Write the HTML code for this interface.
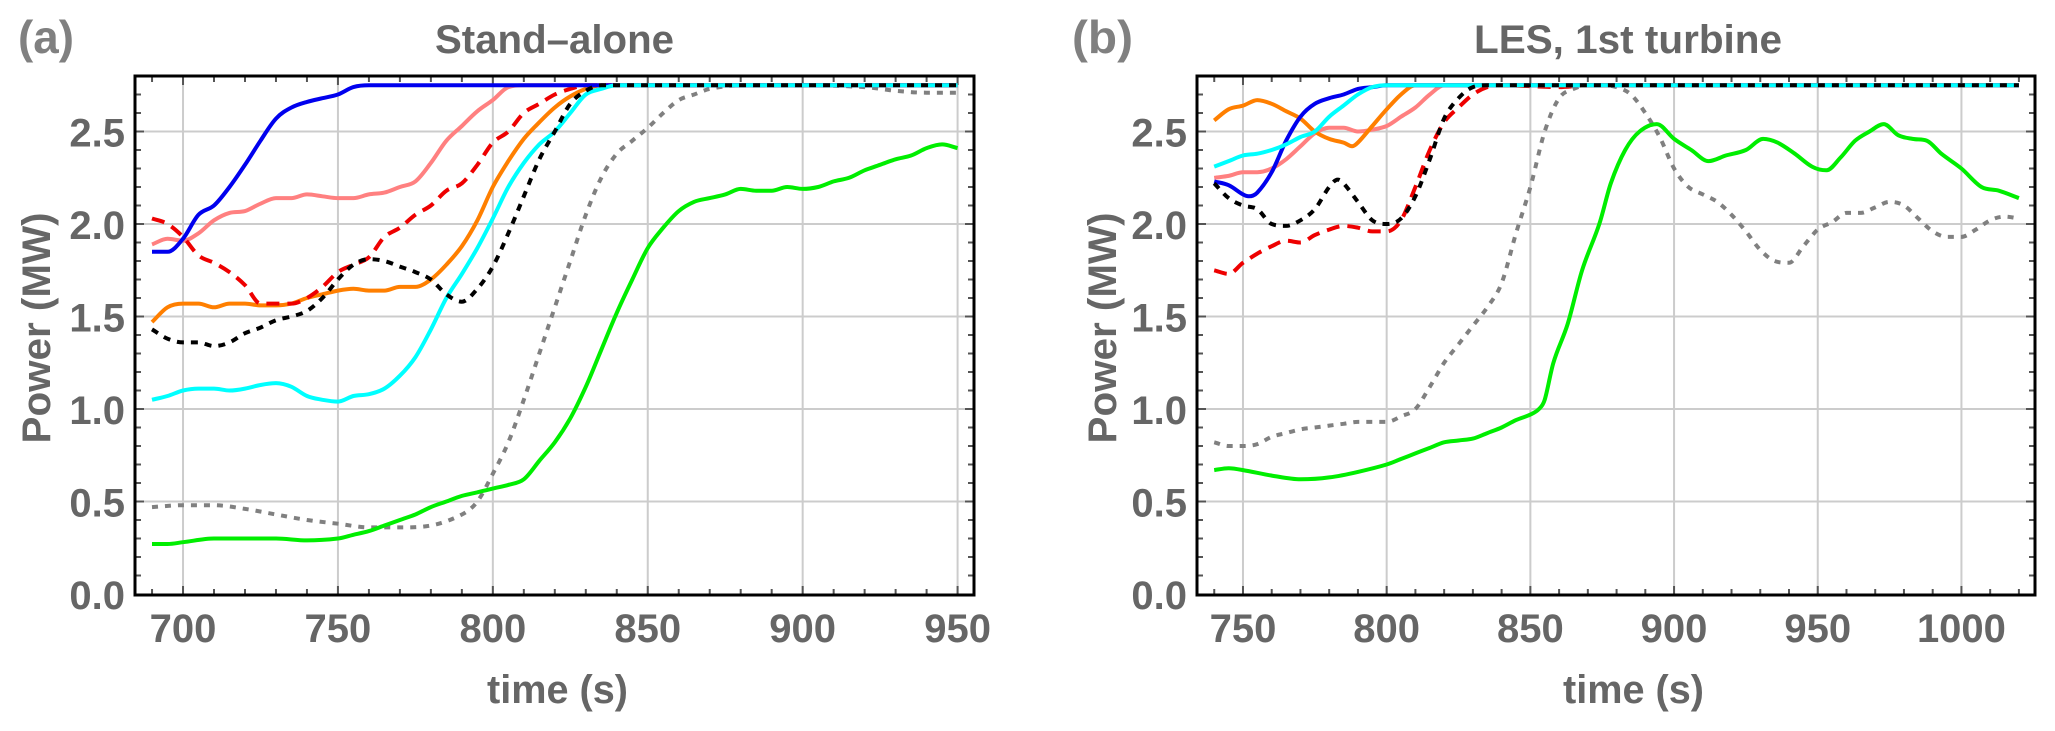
<!DOCTYPE html>
<html><head><meta charset="utf-8"><style>
html,body{margin:0;padding:0;background:#fff;}
svg{display:block;font-family:"Liberation Sans",Arial,sans-serif;font-weight:bold;}
</style></head><body>
<svg id="fig" width="2055" height="731" viewBox="0 0 2055 731"></svg>
<script>
// ---------- Panel (a) data: Stand-alone ----------
const aBlueT=[690,695,700,705,710,715,720,725,730,735,740,745,750,755,760,950];
const aBlueP=[1.85,1.85,1.92,2.05,2.1,2.2,2.32,2.45,2.57,2.63,2.66,2.68,2.7,2.74,2.75,2.75];
const aPinkT=[690,695,700,705,710,715,720,725,730,735,740,745,750,755,760,765,770,775,780,785,790,795,800,805,810,950];
const aPinkP=[1.89,1.92,1.91,1.95,2.02,2.06,2.07,2.11,2.14,2.14,2.16,2.15,2.14,2.14,2.16,2.17,2.2,2.23,2.33,2.45,2.53,2.61,2.67,2.74,2.75,2.75];
const aRedT=[690,695,700,705,710,715,720,725,730,735,740,745,750,755,760,765,770,775,780,785,790,795,800,805,810,815,820,825,830,950];
const aRedP=[2.03,2.0,1.93,1.83,1.79,1.74,1.67,1.57,1.57,1.57,1.6,1.66,1.74,1.78,1.82,1.93,1.98,2.05,2.1,2.18,2.22,2.32,2.44,2.5,2.6,2.65,2.7,2.73,2.75,2.75];
const aOrangeT=[690,695,700,705,710,715,720,725,730,735,740,745,750,755,760,765,770,775,780,785,790,795,800,805,810,815,820,825,830,835,950];
const aOrangeP=[1.47,1.55,1.57,1.57,1.55,1.57,1.57,1.56,1.56,1.57,1.6,1.62,1.64,1.65,1.64,1.64,1.66,1.66,1.7,1.78,1.88,2.02,2.2,2.34,2.46,2.55,2.63,2.69,2.73,2.75,2.75];
const aCyanT=[690,695,700,705,710,715,720,725,730,735,740,745,750,755,760,765,770,775,780,785,790,795,800,805,810,815,820,825,830,835,840,950];
const aCyanP=[1.05,1.07,1.1,1.11,1.11,1.1,1.11,1.13,1.14,1.12,1.07,1.05,1.04,1.07,1.08,1.11,1.18,1.28,1.43,1.6,1.73,1.87,2.03,2.2,2.33,2.43,2.5,2.6,2.7,2.73,2.75,2.75];
const aBlackT=[690,695,700,705,710,715,720,725,730,735,740,745,750,755,760,765,770,775,780,785,790,795,800,805,810,815,820,825,830,835,840,950];
const aBlackP=[1.43,1.38,1.36,1.36,1.34,1.36,1.41,1.44,1.48,1.5,1.53,1.6,1.7,1.78,1.81,1.8,1.77,1.74,1.7,1.62,1.58,1.65,1.77,1.95,2.15,2.35,2.5,2.65,2.72,2.75,2.75,2.75];
const aGrayT=[690,700,710,720,730,740,750,760,770,780,790,795,800,805,810,815,820,825,830,835,840,845,850,855,860,865,870,880,900,920,930,940,950];
const aGrayP=[0.47,0.48,0.48,0.46,0.43,0.4,0.38,0.36,0.36,0.37,0.43,0.5,0.65,0.82,1.05,1.3,1.55,1.8,2.05,2.25,2.38,2.45,2.52,2.6,2.67,2.7,2.73,2.75,2.75,2.74,2.72,2.71,2.71];
const aGreenT=[690,695,700,710,720,730,740,750,755,760,765,770,775,780,785,790,795,800,805,810,815,820,825,830,835,840,845,850,855,860,865,870,875,880,885,890,895,900,905,910,915,920,925,930,935,940,945,950];
const aGreenP=[0.27,0.27,0.28,0.3,0.3,0.3,0.29,0.3,0.32,0.34,0.37,0.4,0.43,0.47,0.5,0.53,0.55,0.57,0.59,0.62,0.72,0.82,0.95,1.12,1.32,1.52,1.7,1.87,1.98,2.07,2.12,2.14,2.16,2.19,2.18,2.18,2.2,2.19,2.2,2.23,2.25,2.29,2.32,2.35,2.37,2.41,2.43,2.41];

// ---------- Panel (b) data: LES, 1st turbine ----------
const bOrangeT=[740,745,750,755,760,765,770,775,780,785,788,790,795,800,805,810,1020];
const bOrangeP=[2.56,2.62,2.64,2.67,2.65,2.61,2.57,2.5,2.46,2.44,2.42,2.44,2.53,2.62,2.7,2.75,2.75];
const bBlueT=[740,745,750,752,755,760,765,770,775,780,785,790,795,800,1020];
const bBlueP=[2.23,2.21,2.16,2.15,2.17,2.28,2.45,2.58,2.65,2.68,2.7,2.73,2.74,2.75,2.75];
const bPinkT=[740,745,750,755,760,765,770,775,780,785,790,795,800,805,810,815,820,1020];
const bPinkP=[2.25,2.26,2.28,2.28,2.3,2.35,2.42,2.49,2.52,2.52,2.5,2.51,2.53,2.58,2.63,2.7,2.75,2.75];
const bCyanT=[740,745,750,755,760,765,770,775,780,785,790,795,800,1020];
const bCyanP=[2.31,2.34,2.37,2.38,2.4,2.43,2.47,2.5,2.58,2.64,2.7,2.74,2.75,2.75];
const bBlackT=[740,745,750,755,760,765,770,775,780,783,785,790,795,800,805,810,815,820,825,830,835,1020];
const bBlackP=[2.22,2.14,2.1,2.08,2.0,1.99,2.02,2.08,2.2,2.24,2.22,2.12,2.02,2.0,2.03,2.15,2.35,2.57,2.68,2.74,2.75,2.75];
const bRedT=[740,745,750,755,760,765,770,775,780,785,790,795,800,805,810,815,820,825,830,835,840,860,870,1020];
const bRedP=[1.75,1.73,1.79,1.84,1.88,1.91,1.9,1.94,1.97,1.99,1.98,1.96,1.96,2.02,2.2,2.4,2.55,2.63,2.7,2.74,2.75,2.74,2.75,2.75];
const bGrayT=[740,745,750,755,760,765,770,775,780,785,790,795,800,805,810,815,820,825,830,835,840,845,850,855,860,865,870,875,880,885,890,895,900,905,910,915,920,925,930,935,940,945,950,955,960,965,970,975,980,985,990,995,1000,1005,1010,1015,1020];
const bGrayP=[0.82,0.8,0.8,0.81,0.85,0.87,0.89,0.9,0.91,0.92,0.93,0.93,0.93,0.96,1.0,1.12,1.25,1.35,1.45,1.55,1.68,1.95,2.2,2.5,2.68,2.73,2.75,2.75,2.74,2.7,2.6,2.47,2.3,2.2,2.16,2.12,2.05,1.96,1.86,1.8,1.79,1.88,1.97,2.01,2.06,2.06,2.09,2.12,2.1,2.03,1.96,1.93,1.93,1.97,2.02,2.04,2.03];
const bGreenT=[740,745,750,760,770,780,790,800,805,810,815,820,825,830,835,840,845,850,853,855,858,863,868,874,878,883,888,894,900,906,912,918,925,931,936,942,948,953,958,963,968,973,978,983,988,993,1000,1007,1013,1020];
const bGreenP=[0.67,0.68,0.67,0.64,0.62,0.63,0.66,0.7,0.73,0.76,0.79,0.82,0.83,0.84,0.87,0.9,0.94,0.97,1.0,1.05,1.25,1.46,1.75,2.0,2.22,2.4,2.5,2.54,2.46,2.4,2.34,2.37,2.4,2.46,2.44,2.38,2.31,2.29,2.36,2.45,2.5,2.54,2.48,2.46,2.45,2.38,2.3,2.2,2.18,2.14];

// ticks
const yTicks=[0,0.5,1.0,1.5,2.0,2.5];
const yTickLabels=["0.0","0.5","1.0","1.5","2.0","2.5"];
const aXTicks=[700,750,800,850,900,950];
const bXTicks=[750,800,850,900,950,1000];

const NS="http://www.w3.org/2000/svg";
const svg=document.getElementById('fig');
function mk(tag,attrs,parent){const e=document.createElementNS(NS,tag);for(const k in attrs)e.setAttribute(k,attrs[k]);(parent||svg).appendChild(e);return e;}

function smoothPath(P){
  const n=P.length, m=[];
  for(let i=0;i<n;i++){
    const a=P[Math.max(0,i-1)], b=P[Math.min(n-1,i+1)];
    let s=(b[1]-a[1])/(b[0]-a[0]);
    if(i>0&&i<n-1){
      const s1=(P[i][1]-P[i-1][1]), s2=(P[i+1][1]-P[i][1]);
      if(s1*s2<=0) s=0;
      else{ const d1=s1/(P[i][0]-P[i-1][0]), d2=s2/(P[i+1][0]-P[i][0]);
        s=Math.sign(s)*Math.min(Math.abs(s),3*Math.min(Math.abs(d1),Math.abs(d2))); }
    }
    m.push(s);
  }
  let d='M'+P[0][0].toFixed(1)+','+P[0][1].toFixed(1);
  for(let i=0;i<n-1;i++){
    const dx=(P[i+1][0]-P[i][0])/3;
    d+=' C'+(P[i][0]+dx).toFixed(1)+','+(P[i][1]+m[i]*dx).toFixed(1)+' '+(P[i+1][0]-dx).toFixed(1)+','+(P[i+1][1]-m[i+1]*dx).toFixed(1)+' '+P[i+1][0].toFixed(1)+','+P[i+1][1].toFixed(1);
  }
  return d;
}

function panel(cfg){
  const g=mk('g',{});
  
  
  const L=cfg.left,R=cfg.right,T=76,B=595;
  const sx=t=>L+(t-cfg.x0)/(cfg.x1-cfg.x0)*(R-L);
  const sy=p=>594-p*185;
  cfg.xt.forEach(t=>{const l=mk('line',{x1:sx(t),x2:sx(t),y1:T,y2:B,stroke:'#cccccc','stroke-width':2},g);
    });
  yTicks.forEach(p=>{if(p===0)return;const l=mk('line',{x1:L,x2:R,y1:sy(p),y2:sy(p),stroke:'#cccccc','stroke-width':2},g);
    });
  for(let t=Math.ceil(cfg.x0/10)*10;t<=cfg.x1;t+=10){
    const len=(t%50===0)?9:6;
    mk('line',{x1:sx(t),x2:sx(t),y1:B,y2:B-len,stroke:'#555','stroke-width':2},g);
    mk('line',{x1:sx(t),x2:sx(t),y1:T,y2:T+len,stroke:'#555','stroke-width':2},g);
  }
  for(let i=1;i<=27;i++){const p=i/10;const len=(i%5===0)?9:6;
    mk('line',{x1:L,x2:L+len,y1:sy(p),y2:sy(p),stroke:'#555','stroke-width':2},g);
    mk('line',{x1:R,x2:R-len,y1:sy(p),y2:sy(p),stroke:'#555','stroke-width':2},g);
  }
  cfg.series.forEach(s=>{
    const P=s.t.map((t,i)=>[sx(t),sy(s.p[i])]);
    const a={d:smoothPath(P),fill:'none',stroke:s.c,'stroke-width':4,'stroke-linejoin':'round'};
    if(s.d)a['stroke-dasharray']=s.d;
    const pl=mk('path',a,g);
    
    
  });
  const fr=mk('rect',{x:L,y:T,width:R-L,height:B-T,fill:'none',stroke:'#000','stroke-width':3},g);
  
  yTicks.forEach((p,i)=>{const tx=mk('text',{x:cfg.ylabX,y:sy(p)+15,'text-anchor':'end','font-size':40,fill:'#666'},g);
    tx.textContent=yTickLabels[i];});
  cfg.xt.forEach(t=>{const tx=mk('text',{x:sx(t),y:642,'text-anchor':'middle','font-size':40,fill:'#666'},g);
    tx.textContent=String(t);});
  let tx=mk('text',{x:cfg.titleX,y:53,'font-size':40,fill:'#666',textLength:cfg.titleW,lengthAdjust:'spacingAndGlyphs'},g);
  tx.textContent=cfg.title;
  tx=mk('text',{x:cfg.tagX,y:53,'font-size':46,fill:'#808080',textLength:cfg.tagW,lengthAdjust:'spacingAndGlyphs'},g);
  tx.textContent=cfg.tag;
  tx=mk('text',{x:cfg.xlabX,y:703,'font-size':40,fill:'#666',textLength:141,lengthAdjust:'spacingAndGlyphs'},g);
  tx.textContent='time (s)';
  tx=mk('text',{x:0,y:0,'font-size':40,fill:'#666','text-anchor':'middle',textLength:231,lengthAdjust:'spacingAndGlyphs',transform:`translate(${cfg.ylabCX},328) rotate(-90)`},g);
  tx.textContent='Power (MW)';
}

panel({name:'panel-a-stand-alone',left:135,right:974,x0:684.5,x1:955.3,xt:aXTicks,ylabX:125,
  title:'Stand\u2013alone',titleX:435,titleW:239,tag:'(a)',tagX:18,tagW:56,xlabX:487,ylabCX:50,
  series:[
    {n:'series-gray-dotted',t:aGrayT,p:aGrayP,c:'#808080',d:'6 7'},
    {n:'series-green',t:aGreenT,p:aGreenP,c:'#00ee00'},
    {n:'series-pink',t:aPinkT,p:aPinkP,c:'#ff8080'},
    {n:'series-orange',t:aOrangeT,p:aOrangeP,c:'#ff7f00'},
    {n:'series-red-dashed',t:aRedT,p:aRedP,c:'#ee0000',d:'13 8'},
    {n:'series-blue',t:aBlueT,p:aBlueP,c:'#0000ee'},
    {n:'series-cyan',t:aCyanT,p:aCyanP,c:'#00ffff'},
    {n:'series-black-dotted',t:aBlackT,p:aBlackP,c:'#000',d:'7 7'}
  ]});
panel({name:'panel-b-les-first-turbine',left:1197,right:2035,x0:734,x1:1025.6,xt:bXTicks,ylabX:1187,
  title:'LES, 1st turbine',titleX:1474,titleW:308,tag:'(b)',tagX:1072,tagW:61,xlabX:1563,ylabCX:1116,
  series:[
    {n:'series-gray-dotted',t:bGrayT,p:bGrayP,c:'#808080',d:'6 7'},
    {n:'series-green',t:bGreenT,p:bGreenP,c:'#00ee00'},
    {n:'series-pink',t:bPinkT,p:bPinkP,c:'#ff8080'},
    {n:'series-orange',t:bOrangeT,p:bOrangeP,c:'#ff7f00'},
    {n:'series-blue',t:bBlueT,p:bBlueP,c:'#0000ee'},
    {n:'series-red-dashed',t:bRedT,p:bRedP,c:'#ee0000',d:'13 8'},
    {n:'series-cyan',t:bCyanT,p:bCyanP,c:'#00ffff'},
    {n:'series-black-dotted',t:bBlackT,p:bBlackP,c:'#000',d:'7 7'}
  ]});
</script>
</body></html>
